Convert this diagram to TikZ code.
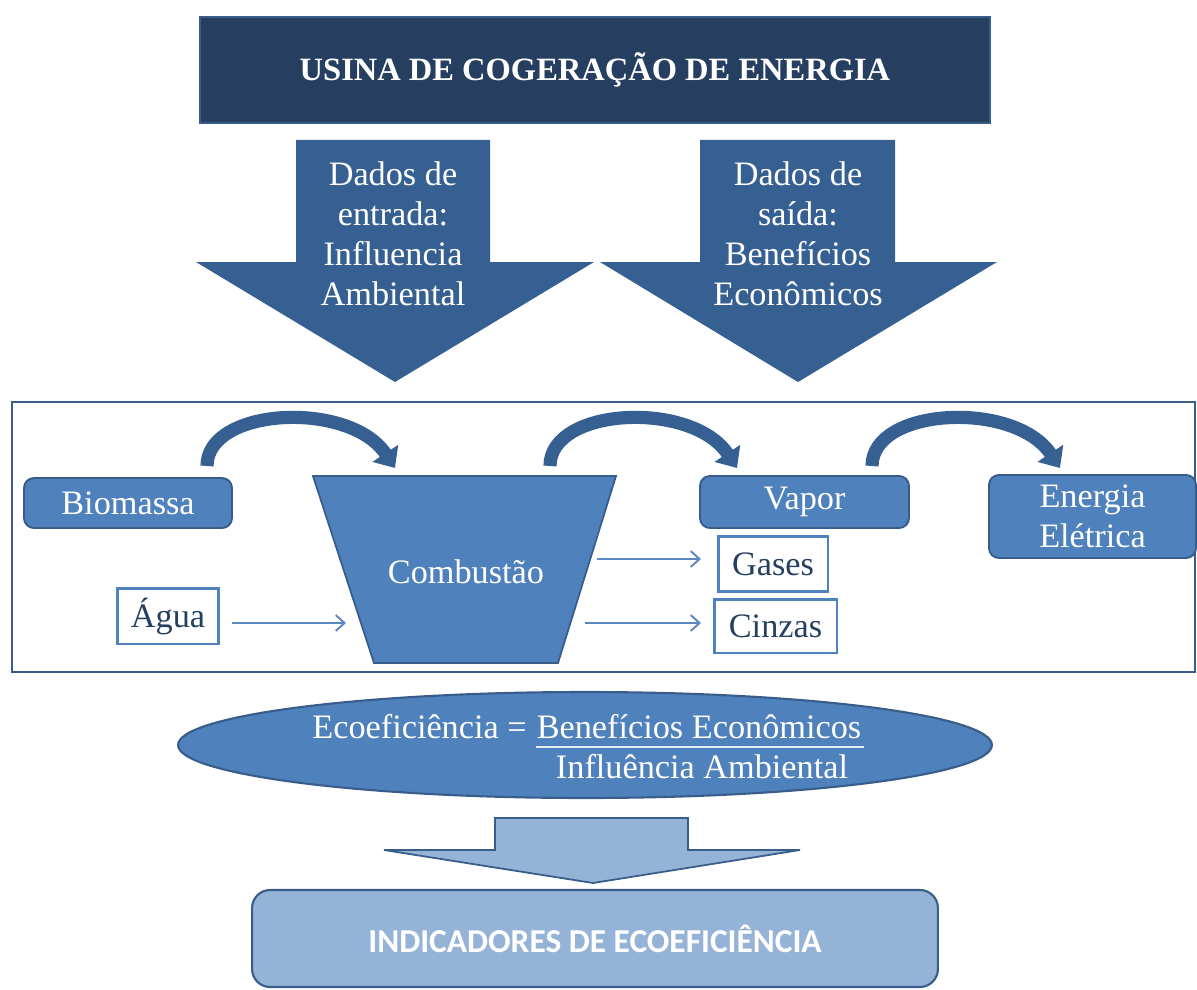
\documentclass[tikz,border=0pt]{standalone}
\usepackage{fontspec}
\setmainfont{Liberation Serif}
\newfontfamily\calib{Carlito}
\usetikzlibrary{arrows.meta,calc,shapes.geometric}
\definecolor{navy}{HTML}{263F60}
\definecolor{blockblue}{HTML}{376092}
\definecolor{accent}{HTML}{4F81BD}
\definecolor{accentdark}{HTML}{385D8A}
\definecolor{lightblue}{HTML}{95B3D7}
\definecolor{thinarrow}{HTML}{5B87C2}
\definecolor{darktext}{HTML}{243F60}
\begin{document}
\begin{tikzpicture}[x=0.02cm,y=-0.02cm,
  txt/.style={font=\fontsize{19.5}{22.7}\selectfont},
  filledbox/.style={draw=accentdark,line width=1.1pt,fill=accent,rounded corners=0.2cm,text=white,txt,inner sep=0pt,align=center},
  outlinebox/.style={draw=accent,line width=1.7pt,fill=white,text=darktext,txt,inner sep=0pt},
  thinarr/.style={draw=thinarrow,line width=1.1pt,-{Straight Barb[length=5pt,width=9pt]}},
  curvedarr/.style={draw=blockblue,line width=7.5pt,-{Triangle[length=10pt,width=17pt]}},
  blockarrow/.style={fill=blockblue},
  eqtext/.style={txt,text=white,inner sep=0pt}
]
\useasboundingbox[fill=white] (0,0) rectangle (1197,990);

% title
\node[fill=navy,draw=accentdark,line width=0.8pt,minimum width=15.8cm,minimum height=2.12cm,inner sep=0pt,text=white,font=\fontsize{18.5}{22}\selectfont\bfseries] (title) at (595,70) {USINA DE COGERAÇÃO DE ENERGIA};

% block arrows
\path[blockarrow] (296,140) -- (490,140) -- (490,262) -- (594,262) -- (395,382) -- (196,262) -- (296,262) -- cycle;
\node[txt,text=white,align=center] (entrada) at (393,234) {Dados de\\entrada:\\Influencia\\Ambiental};
\path[blockarrow] (700,140) -- (895,140) -- (895,262) -- (997,262) -- (798,382) -- (600,262) -- (700,262) -- cycle;
\node[txt,text=white,align=center] (saida) at (798,234) {Dados de\\saída:\\Benefícios\\Econômicos};

% frame
\draw[accentdark,line width=1.5pt] (12,402) rectangle (1195,672);

% process boxes
\node[filledbox,minimum width=4.16cm,minimum height=1.0cm] (bio) at (128,503) {Biomassa};
\filldraw[fill=accent,draw=accentdark,line width=1pt] (313,476) -- (616,476) -- (558,663) -- (374,663) -- cycle;
\node[txt,text=white] (comb) at (466,572) {Combustão};
\node[filledbox,minimum width=4.18cm,minimum height=1.04cm] (vapor) at (804.5,502) {Vapor};
\node[filledbox,minimum width=4.14cm,minimum height=1.66cm] (ener) at (1092.5,516.5) {Energia\\Elétrica};
\node[outlinebox,minimum width=2.2cm,minimum height=1.1cm] (gases) at (773,564) {Gases};
\node[outlinebox,minimum width=2.46cm,minimum height=1.08cm] (cinzas) at (775.5,626) {Cinzas};
\node[outlinebox,minimum width=2.04cm,minimum height=1.12cm] (agua) at (168,616) {Água};

% curved arrows
\coordinate (c1s) at (207,466); \coordinate (c1e) at (395,468);
\coordinate (c2s) at (550,466); \coordinate (c2e) at (737,468);
\coordinate (c3s) at (872,466); \coordinate (c3e) at (1060,468);
\draw[curvedarr] (c1s) .. controls (207,407) and (350,400) .. (c1e);
\draw[curvedarr] (c2s) .. controls (550,407) and (692,400) .. (c2e);
\draw[curvedarr] (c3s) .. controls (872,407) and (1015,400) .. (c3e);

% thin arrows
\coordinate (t1s) at (232,623); \coordinate (t1e) at (346,623);
\coordinate (t2s) at (597,559); \coordinate (t2e) at (701,559);
\coordinate (t3s) at (585,623); \coordinate (t3e) at (701,623);
\draw[thinarr] (t1s) -- (t1e);
\draw[thinarr] (t2s) -- (t2e);
\draw[thinarr] (t3s) -- (t3e);

% ellipse
\node[ellipse,draw=accentdark,line width=1.2pt,fill=accent,minimum width=16.28cm,minimum height=2.12cm] (eco) at (585,745) {};
\node[eqtext,anchor=base east] (lhs) at (527,738) {Ecoeficiência =};
\node[eqtext,anchor=base] (num) at (699,738) {Benefícios Econômicos};
\node[eqtext,anchor=base] (den) at (702,778) {Influência Ambiental};
\draw[white!85!accent,line width=1pt] ($(num.base west)+(0,9)$) -- ($(num.base east)+(2,9)$);

% bottom arrow
\filldraw[fill=lightblue,draw=accentdark,line width=1pt] (495,818) -- (688,818) -- (688,850) -- (800,850) -- (593,883) -- (384,850) -- (495,850) -- cycle;

% bottom box
\node[draw=accentdark,line width=1.2pt,fill=lightblue,rounded corners=0.36cm,minimum width=13.72cm,minimum height=1.94cm,text=white,font=\calib\bfseries\fontsize{19}{22}\selectfont] (ind) at (595,938.5) {INDICADORES DE ECOEFICIÊNCIA};
\end{tikzpicture}
\end{document}
